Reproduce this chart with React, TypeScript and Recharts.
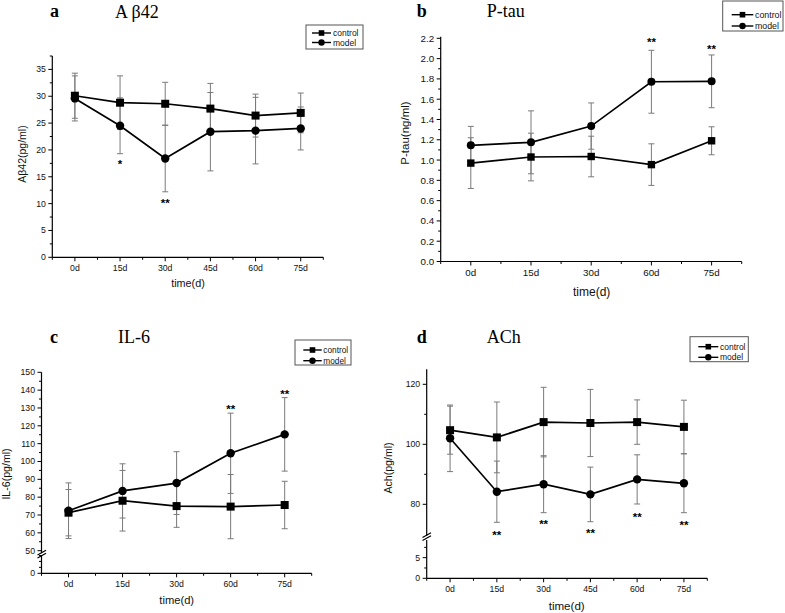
import React from 'react';
import { ComposedChart, Line, XAxis, YAxis, ErrorBar } from 'recharts';

const SANS = '"Liberation Sans", Arial, Helvetica, sans-serif';
const SERIF = '"Liberation Serif", "Times New Roman", serif';

const seriesNames = ['control', 'model'];

// ---------- Panel a : A beta 42 ----------
const daysA = ['0d', '15d', '30d', '45d', '60d', '75d'];
const controlA = [30.1, 28.8, 28.6, 27.7, 26.4, 26.9];
const controlErrA = [4.2, 5.0, 4.0, 4.7, 4.0, 3.7];
const modelA = [29.6, 24.5, 18.4, 23.4, 23.6, 24.0];
const modelErrA = [4.2, 5.2, 6.2, 7.3, 6.2, 4.0];
const starTextA = ['', '*', '**', '', '', ''];
const starPosA = [null, 17.8, 10.7, null, null, null];
const yMajorA = [0, 5, 10, 15, 20, 25, 30, 35];
const yMinorA = [2.5, 7.5, 12.5, 17.5, 22.5, 27.5, 32.5, 37.5];

// ---------- Panel b : P-tau ----------
const daysB = ['0d', '15d', '30d', '60d', '75d'];
const controlB = [0.97, 1.03, 1.035, 0.955, 1.19];
const controlErrB = [0.25, 0.235, 0.2, 0.205, 0.138];
const modelB = [1.145, 1.175, 1.335, 1.772, 1.776];
const modelErrB = [0.187, 0.31, 0.228, 0.31, 0.26];
const starTextB = ['', '', '', '**', '**'];
const starPosB = [null, null, null, 2.19, 2.12];
const yMajorB = [0, 0.2, 0.4, 0.6, 0.8, 1.0, 1.2, 1.4, 1.6, 1.8, 2.0, 2.2];
const yMinorB = [0.1, 0.3, 0.5, 0.7, 0.9, 1.1, 1.3, 1.5, 1.7, 1.9, 2.1];

// ---------- Panel c : IL-6 ----------
const daysC = ['0d', '15d', '30d', '60d', '75d'];
const controlC = [71.3, 78.0, 75.0, 74.7, 75.6];
const controlErrC = [13.0, 17.0, 11.9, 18.0, 13.3];
const modelC = [72.4, 83.5, 87.9, 104.6, 115.2];
const modelErrC = [15.6, 15.2, 17.6, 22.5, 20.6];
const starTextC = ['', '', '', '**', '**'];
const starPosC = [null, null, null, 130.7, 139.1];
const yMajorC = [50, 60, 70, 80, 90, 100, 110, 120, 130, 140, 150];
const yMinorC = [55, 65, 75, 85, 95, 105, 115, 125, 135, 145];
const yMajorCLow = [0];
const yMinorCLow = [3.33, 6.67, 10];

// ---------- Panel d : ACh ----------
const daysD = ['0d', '15d', '30d', '45d', '60d', '75d'];
const controlD = [104.7, 102.3, 107.4, 107.1, 107.4, 105.8];
const controlErrD = [8.0, 11.8, 11.6, 11.2, 7.4, 8.9];
const modelD = [102.0, 84.2, 86.7, 83.3, 88.3, 87.0];
const modelErrD = [11.1, 10.2, 9.5, 9.1, 8.2, 9.8];
const starTextD = ['', '**', '**', '**', '**', '**'];
const starPosD = [null, 70.7, 74.3, 71.2, 76.8, 74.0];
const yMajorD = [80, 100, 120];
const yMinorD = [90, 110];
const yMajorDLow = [0, 5];
const yMinorDLow = [2.5, 7.5];

function buildRows(
  days: string[], c: number[], ce: number[], m: number[], me: number[],
  st: string[], sp: (number | null)[]
) {
  return days.map((d, i) => ({
    i, day: d, control: c[i], cErr: ce[i], model: m[i], mErr: me[i],
    star: sp[i], starText: st[i],
  }));
}

const rowsA = buildRows(daysA, controlA, controlErrA, modelA, modelErrA, starTextA, starPosA);
const rowsB = buildRows(daysB, controlB, controlErrB, modelB, modelErrB, starTextB, starPosB);
const rowsC = buildRows(daysC, controlC, controlErrC, modelC, modelErrC, starTextC, starPosC);
const rowsD = buildRows(daysD, controlD, controlErrD, modelD, modelErrD, starTextD, starPosD);

type SegProps = {
  left: number; top: number; width: number; height: number;
  mTop: number; mRight: number; mBottom: number;
  yWidth: number; xHeight: number; hideX: boolean;
  yDomain: [number, number]; yMajor: number[]; yMinor: number[];
  yFmt: (v: number) => string;
  days: string[]; rows: any[]; series: boolean; fs: number;
  sq: number; r: number; overflow?: boolean;
};

function Segment(p: SegProps) {
  const n = p.days.length;
  const xTicks: number[] = [];
  for (let k = -1; k < 2 * n; k++) xTicks.push(k / 2);
  const allY = [...p.yMajor, ...p.yMinor];

  const YTick = (props: any) => {
    const { x, y, payload } = props;
    const v = payload.value;
    const major = p.yMajor.some((m) => Math.abs(m - v) < 1e-6);
    return (
      <g>
        <line x1={x} x2={x - (major ? 4 : 2.5)} y1={y} y2={y} stroke="#000" strokeWidth={1} />
        {major && (
          <text x={x - 6.5} y={y} dominantBaseline="central" textAnchor="end"
            fontSize={p.fs} fontFamily={SANS} fill="#111">{p.yFmt(v)}</text>
        )}
      </g>
    );
  };

  const XTick = (props: any) => {
    const { x, y, payload } = props;
    const v = payload.value;
    const major = Math.abs(v - Math.round(v)) < 1e-6 && v >= 0;
    return (
      <g>
        <line x1={x} x2={x} y1={y} y2={y + (major ? 4 : 2.5)} stroke="#000" strokeWidth={1} />
        {major && (
          <text x={x} y={y + 11} dominantBaseline="central" textAnchor="middle"
            fontSize={p.fs} fontFamily={SANS} fill="#111">{p.days[Math.round(v)]}</text>
        )}
      </g>
    );
  };

  const SquareDot = (props: any) => {
    const { cx, cy, index } = props;
    if (cx == null || cy == null) return <g key={'q' + index} />;
    return <rect key={'q' + index} x={cx - p.sq / 2} y={cy - p.sq / 2} width={p.sq} height={p.sq} fill="#000" />;
  };
  const CircleDot = (props: any) => {
    const { cx, cy, index } = props;
    if (cx == null || cy == null) return <g key={'c' + index} />;
    return <circle key={'c' + index} cx={cx} cy={cy} r={p.r} fill="#000" />;
  };
  const StarDot = (props: any) => {
    const { cx, cy, payload, index } = props;
    if (cx == null || cy == null || !payload || !payload.starText) return <g key={'s' + index} />;
    return (
      <text key={'s' + index} x={cx} y={cy + 0.58 * 11.5} textAnchor="middle" fontSize={11.5}
        fontWeight="bold" fontFamily={SANS} fill="#000" stroke="none">{payload.starText}</text>
    );
  };

  return (
    <div style={{ position: 'absolute', left: p.left, top: p.top }}>
      <ComposedChart width={p.width} height={p.height} data={p.rows}
        margin={{ top: p.mTop, right: p.mRight, bottom: p.mBottom, left: 0 }}>
        <XAxis type="number" dataKey="i" domain={[-0.5, n - 0.5]} ticks={xTicks} interval={0}
          tickSize={0} tickMargin={0} tick={XTick} tickLine={false} height={p.xHeight}
          hide={p.hideX} allowDataOverflow axisLine={{ stroke: '#000', strokeWidth: 1.2 }} />
        <YAxis type="number" domain={p.yDomain} ticks={allY} interval={0} tickSize={0} tickMargin={0}
          tick={YTick} tickLine={false} width={p.yWidth} allowDataOverflow={!!p.overflow}
          axisLine={{ stroke: '#000', strokeWidth: 1.2 }} />
        {p.series ? (
          <Line type="linear" dataKey="control" stroke="#000" strokeWidth={1.7} dot={SquareDot}
            activeDot={false} isAnimationActive={false} legendType="none">
            <ErrorBar dataKey="cErr" width={3} stroke="#7a7a7a" strokeWidth={1} direction="y" isAnimationActive={false} />
          </Line>
        ) : (
          <Line type="linear" dataKey="control" stroke="none" dot={false} activeDot={false}
            isAnimationActive={false} legendType="none" />
        )}
        {p.series && (
          <Line type="linear" dataKey="model" stroke="#000" strokeWidth={1.7} dot={CircleDot}
            activeDot={false} isAnimationActive={false} legendType="none">
            <ErrorBar dataKey="mErr" width={3} stroke="#7a7a7a" strokeWidth={1} direction="y" isAnimationActive={false} />
          </Line>
        )}
        {p.series && (
          <Line type="linear" dataKey="star" stroke="none" dot={StarDot} activeDot={false}
            isAnimationActive={false} legendType="none" connectNulls={false} />
        )}
      </ComposedChart>
    </div>
  );
}

function LegendBox(props: { x: number; y: number; w: number; h: number; r1: number; r2: number; l1: number; l2: number; tx: number; fs: number }) {
  const { x, y, w, h, r1, r2, l1, l2, tx, fs } = props;
  const mx = (l1 + l2) / 2;
  return (
    <g>
      <rect x={x} y={y} width={w} height={h} fill="#fff" stroke="#555" strokeWidth={1} />
      <line x1={l1} x2={l2} y1={r1} y2={r1} stroke="#000" strokeWidth={1.4} />
      <rect x={mx - 2.8} y={r1 - 2.8} width={5.6} height={5.6} fill="#000" />
      <text x={tx} y={r1} dominantBaseline="central" fontSize={fs} fontFamily={SANS} fill="#111">{seriesNames[0]}</text>
      <line x1={l1} x2={l2} y1={r2} y2={r2} stroke="#000" strokeWidth={1.4} />
      <circle cx={mx} cy={r2} r={3.2} fill="#000" />
      <text x={tx} y={r2} dominantBaseline="central" fontSize={fs} fontFamily={SANS} fill="#111">{seriesNames[1]}</text>
    </g>
  );
}

const int = (v: number) => String(Math.round(v));
const one = (v: number) => v.toFixed(1);

export default function App() {
  return (
    <div style={{ position: 'absolute', left: 0, top: 0, width: 785, height: 613, background: '#fff', overflow: 'hidden' }}>
      {/* Panel a */}
      <Segment left={0} top={0} width={340} height={300} mTop={56} mRight={16.7} mBottom={0}
        yWidth={52.3} xHeight={42.7} hideX={false} yDomain={[0, 37.5]} yMajor={yMajorA} yMinor={yMinorA}
        yFmt={int} days={daysA} rows={rowsA} series fs={8.7} sq={8} r={4.2} />
      {/* Panel b */}
      <Segment left={390} top={0} width={395} height={300} mTop={36.8} mRight={43.3} mBottom={0}
        yWidth={50.7} xHeight={38.5} hideX={false} yDomain={[0, 2.215]} yMajor={yMajorB} yMinor={yMinorB}
        yFmt={one} days={daysB} rows={rowsB} series fs={9.8} sq={7.4} r={4} />
      {/* Panel c */}
      <Segment left={0} top={300} width={390} height={260} mTop={72.3} mRight={78.3} mBottom={7}
        yWidth={41.5} xHeight={0} hideX yDomain={[48.7, 150]} yMajor={yMajorC} yMinor={yMinorC}
        yFmt={int} days={daysC} rows={rowsC} series fs={8.7} sq={8} r={4.2} />
      <Segment left={0} top={540} width={390} height={73} mTop={15.5} mRight={78.3} mBottom={0}
        yWidth={41.5} xHeight={39.7} hideX={false} yDomain={[0, 10]} yMajor={yMajorCLow} yMinor={yMinorCLow}
        yFmt={int} days={daysC} rows={rowsC} series={false} fs={8.7} sq={8} r={4.2} overflow />
      {/* Panel d */}
      <Segment left={390} top={300} width={395} height={245} mTop={69.3} mRight={77.7} mBottom={9.2}
        yWidth={36.7} xHeight={0} hideX yDomain={[69.5, 125]} yMajor={yMajorD} yMinor={yMinorD}
        yFmt={int} days={daysD} rows={rowsD} series fs={8.7} sq={8} r={4.2} />
      <Segment left={390} top={520} width={395} height={93} mTop={19.9} mRight={77.7} mBottom={0}
        yWidth={36.7} xHeight={34.7} hideX={false} yDomain={[0, 9.3]} yMajor={yMajorDLow} yMinor={yMinorDLow}
        yFmt={int} days={daysD} rows={rowsD} series={false} fs={8.7} sq={8} r={4.2} overflow />

      <svg width={785} height={613} style={{ position: 'absolute', left: 0, top: 0, pointerEvents: 'none' }}>
        {/* titles */}
        <text x={50} y={17} fontFamily={SERIF} fontWeight="bold" fontSize={18} fill="#000">a</text>
        <text x={115} y={17.5} fontFamily={SERIF} fontSize={18} fill="#000">A β42</text>
        <text x={416.7} y={17} fontFamily={SERIF} fontWeight="bold" fontSize={18} fill="#000">b</text>
        <text x={486.7} y={17} fontFamily={SERIF} fontSize={18} fill="#000">P-tau</text>
        <text x={50} y={343.3} fontFamily={SERIF} fontWeight="bold" fontSize={18} fill="#000">c</text>
        <text x={118} y={343.3} fontFamily={SERIF} fontSize={18} fill="#000">IL-6</text>
        <text x={416.7} y={343.3} fontFamily={SERIF} fontWeight="bold" fontSize={18} fill="#000">d</text>
        <text x={486.7} y={343.3} fontFamily={SERIF} fontSize={18} fill="#000">ACh</text>

        {/* axis titles */}
        <text x={188} y={283.3} textAnchor="middle" dominantBaseline="central" fontFamily={SANS} fontSize={10.8} fill="#111">time(d)</text>
        <text transform="translate(21.7,154) rotate(-90)" textAnchor="middle" dominantBaseline="central" fontFamily={SANS} fontSize={10.5} fill="#111">Aβ42(pg/ml)</text>
        <text x={591.7} y={291.7} textAnchor="middle" dominantBaseline="central" fontFamily={SANS} fontSize={12} fill="#111">time(d)</text>
        <text transform="translate(405,133) rotate(-90)" textAnchor="middle" dominantBaseline="central" fontFamily={SANS} fontSize={11.5} fill="#111">P-tau(ng/ml)</text>
        <text x={176.7} y={600} textAnchor="middle" dominantBaseline="central" fontFamily={SANS} fontSize={11.2} fill="#111">time(d)</text>
        <text transform="translate(6,474) rotate(-90)" textAnchor="middle" dominantBaseline="central" fontFamily={SANS} fontSize={10.6} fill="#111">IL-6(pg/ml)</text>
        <text x={566.7} y={605} textAnchor="middle" dominantBaseline="central" fontFamily={SANS} fontSize={11.6} fill="#111">time(d)</text>
        <text transform="translate(388,468) rotate(-90)" textAnchor="middle" dominantBaseline="central" fontFamily={SANS} fontSize={10.6} fill="#111">Ach(pg/ml)</text>

        {/* legends */}
        <LegendBox x={306} y={25} w={57} h={24} r1={33} r2={42.5} l1={312} l2={331} tx={333} fs={8.5} />
        <LegendBox x={722.7} y={1} w={60.3} h={30} r1={14.7} r2={26} l1={731.7} l2={753.3} tx={755} fs={8.8} />
        <LegendBox x={295} y={340} w={56} h={25} r1={350} r2={360.7} l1={303.3} l2={321.7} tx={323.3} fs={8.3} />
        <LegendBox x={690} y={336.7} w={58.3} h={25} r1={346.7} r2={357.3} l1={698.3} l2={718.3} tx={720} fs={8.5} />

        {/* axis breaks */}
        <line x1={37.5} y1={555} x2={46} y2={550.2} stroke="#000" strokeWidth={1.2} />
        <line x1={37.5} y1={558} x2={46} y2={553.2} stroke="#000" strokeWidth={1.2} />
        <line x1={422.5} y1={537.5} x2={431} y2={532.7} stroke="#000" strokeWidth={1.2} />
        <line x1={422.5} y1={540.5} x2={431} y2={535.7} stroke="#000" strokeWidth={1.2} />
      </svg>
    </div>
  );
}
